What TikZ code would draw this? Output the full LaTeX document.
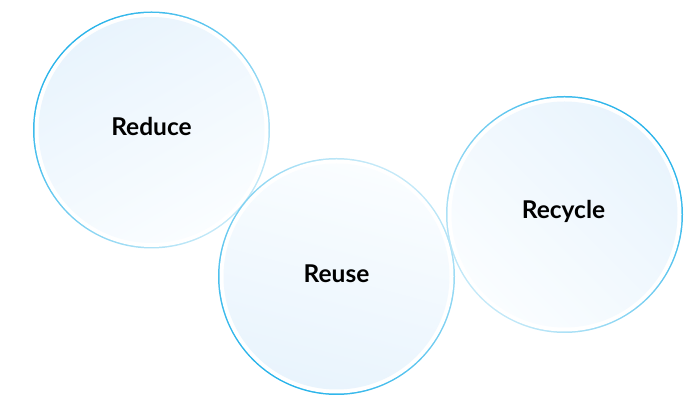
\documentclass[tikz,border=0pt]{standalone}
\usepackage{fontspec}
\setmainfont{Lato}
\definecolor{ringdark}{HTML}{27B3EA}
\definecolor{ringlight}{HTML}{C4E9F8}
\definecolor{filldark}{HTML}{E9F4FD}
\definecolor{filllight}{HTML}{FAFDFF}
\tikzset{
  ring/.style={circle, draw=none, minimum size=237pt, inner sep=0pt},
  gap/.style={circle, fill=white, minimum size=234pt, inner sep=0pt},
  core/.style={circle, minimum size=226pt, inner sep=0pt},
  label/.style={font=\bfseries\fontsize{24.5}{28}\selectfont, text=black}
}
\begin{document}
\begin{tikzpicture}[x=1pt,y=1pt]
\useasboundingbox (0,0) rectangle (694,395);
% Reduce
\node[ring, top color=ringdark, bottom color=ringlight, shading angle=45] (reduceRing) at (151.5,265) {};
\node[gap] (reduceGap) at (reduceRing.center) {};
\node[core, top color=filldark, bottom color=filllight, shading angle=30] (reduceCore) at (reduceRing.center) {};
\node[label] (reduce) at (151.5,268) {Reduce};
% Reuse
\node[ring, top color=ringlight, bottom color=ringdark, shading angle=-30] (reuseRing) at (336.5,118.5) {};
\node[gap] (reuseGap) at (reuseRing.center) {};
\node[core, top color=filllight, bottom color=filldark, shading angle=-15] (reuseCore) at (reuseRing.center) {};
\node[label] (reuse) at (336.5,121.5) {Reuse};
% Recycle
\node[ring, top color=ringdark, bottom color=ringlight, shading angle=-45] (recycleRing) at (564.5,180.5) {};
\node[gap] (recycleGap) at (recycleRing.center) {};
\node[core, top color=filldark, bottom color=filllight, shading angle=-45] (recycleCore) at (recycleRing.center) {};
\node[label] (recycle) at (563.5,183.5) {Recycle};
\end{tikzpicture}
\end{document}
